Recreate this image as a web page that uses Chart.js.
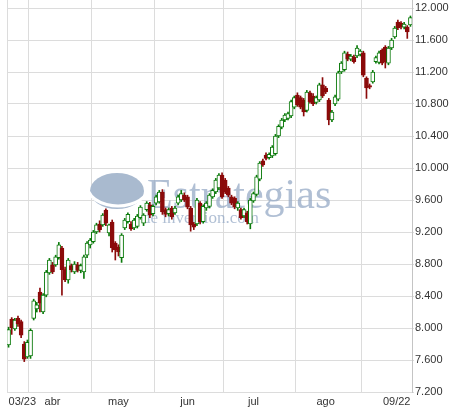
<!DOCTYPE html>
<html>
<head>
<meta charset="utf-8">
<script src="https://cdn.jsdelivr.net/npm/chart.js@4.4.1/dist/chart.umd.min.js"></script>
<style>
  html, body { margin: 0; padding: 0; background: #fff; }
</style>
</head>
<body>
<canvas id="chart" width="451" height="411"></canvas>
<script>
// trading days 23 mar - 22 sep
const dates = [
  '03/23','03/24','03/25','03/26','03/27','03/30','03/31',
  '04/01','04/02','04/03','04/06','04/07','04/08','04/09','04/14','04/15','04/16','04/17','04/20','04/21','04/22','04/23','04/24','04/27','04/28','04/29','04/30',
  '05/04','05/05','05/06','05/07','05/08','05/11','05/12','05/13','05/14','05/15','05/18','05/19','05/20','05/21','05/22','05/25','05/26','05/27','05/28','05/29',
  '06/01','06/02','06/03','06/04','06/05','06/08','06/09','06/10','06/11','06/12','06/15','06/16','06/17','06/18','06/19','06/22','06/23','06/24','06/25','06/26','06/29','06/30',
  '07/01','07/02','07/03','07/06','07/07','07/08','07/09','07/10','07/13','07/14','07/15','07/16','07/17','07/20','07/21','07/22','07/23','07/24','07/27','07/28','07/29','07/30','07/31',
  '08/03','08/04','08/05','08/06','08/07','08/10','08/11','08/12','08/13','08/14','08/17','08/18','08/19','08/20','08/21','08/24','08/25','08/26','08/27','08/28','08/31',
  '09/01','09/02','09/03','09/04','09/07','09/08','09/09','09/10','09/11','09/14','09/15','09/16','09/17','09/18','09/21','09/22'
];

const openP = [
  7790, 8110, 7990, 8120, 8080, 7800, 7640, 7650, 8120, 8240,
  8450, 8200, 8410, 8690, 8790, 8790, 8880, 9000, 8730, 8600,
  8780, 8700, 8790, 8720, 8700, 8910, 9040, 9080, 9200, 9300,
  9290, 9475, 9190, 9325, 9060, 9010, 8880, 9250, 9330, 9300,
  9250, 9270, 9380, 9310, 9480, 9540, 9430, 9560, 9575, 9700,
  9480, 9430, 9500, 9440, 9560, 9600, 9660, 9640, 9500, 9300,
  9300, 9560, 9330, 9500, 9520, 9640, 9700, 9750, 9910, 9850,
  9750, 9640, 9620, 9500, 9480, 9400, 9440, 9300, 9590, 9670,
  9860, 10090, 10160, 10130, 10150, 10180, 10400, 10510, 10600, 10620,
  10650, 10760, 10910, 10880, 10850, 10720, 10940, 10900, 10820, 10850,
  11040, 11000, 10850, 10600, 10800, 10860, 11200, 11230, 11420, 11360,
  11390, 11400, 11420, 11440, 11125, 11030, 11075, 11330, 11320, 11475,
  11510, 11310, 11500, 11640, 11825, 11810, 11760, 11760, 11790
];
const highP = [
  8010, 8130, 8120, 8150, 8100, 7830, 7850, 7990, 8360, 8320,
  8500, 8430, 8720, 8870, 8820, 8910, 9070, 9020, 8760, 8870,
  8800, 8830, 8820, 8800, 8910, 9080, 9120, 9220, 9310, 9340,
  9430, 9490, 9300, 9350, 9080, 9040, 9180, 9370, 9440, 9330,
  9370, 9420, 9530, 9430, 9580, 9570, 9540, 9660, 9720, 9730,
  9500, 9500, 9520, 9520, 9660, 9720, 9690, 9660, 9520, 9320,
  9620, 9580, 9540, 9580, 9680, 9740, 9870, 9930, 9940, 9870,
  9770, 9660, 9640, 9580, 9500, 9500, 9460, 9620, 9700, 9910,
  10080, 10110, 10190, 10190, 10280, 10420, 10540, 10620, 10680, 10700,
  10850, 10900, 10940, 10900, 10870, 10970, 10960, 10930, 10900, 11060,
  11130, 11020, 10870, 10720, 10910, 11210, 11330, 11460, 11450, 11420,
  11410, 11530, 11480, 11460, 11140, 11050, 11220, 11400, 11460, 11490,
  11530, 11520, 11620, 11770, 11850, 11830, 11820, 11780, 11900
];
const lowP = [
  7760, 7920, 7970, 8020, 7880, 7580, 7620, 7620, 8100, 8200,
  8200, 8180, 8390, 8670, 8680, 8770, 8860, 8410, 8580, 8560,
  8700, 8680, 8700, 8690, 8620, 8880, 9000, 9060, 9180, 9200,
  9270, 9280, 9150, 8950, 8850, 8900, 8820, 9230, 9310, 9220,
  9230, 9250, 9360, 9280, 9460, 9380, 9400, 9540, 9560, 9420,
  9390, 9400, 9360, 9420, 9540, 9580, 9580, 9490, 9210, 9230,
  9280, 9300, 9310, 9470, 9500, 9620, 9680, 9730, 9620, 9680,
  9640, 9540, 9490, 9470, 9360, 9380, 9300, 9240, 9570, 9650,
  9840, 10020, 10100, 10110, 10130, 10160, 10380, 10490, 10580, 10600,
  10630, 10740, 10770, 10740, 10650, 10700, 10810, 10780, 10800, 10830,
  10880, 10930, 10540, 10580, 10780, 10840, 11180, 11210, 11340, 11340,
  11310, 11380, 11400, 11140, 10870, 10990, 11060, 11310, 11300, 11290,
  11250, 11290, 11480, 11620, 11730, 11740, 11740, 11620, 11770
];
const closeP = [
  7980, 8000, 8100, 8050, 7910, 7610, 7820, 7970, 8340, 8290,
  8310, 8410, 8700, 8850, 8700, 8890, 9040, 8730, 8600, 8850,
  8730, 8800, 8720, 8780, 8890, 9060, 9100, 9200, 9290, 9230,
  9410, 9310, 9290, 9000, 8975, 8950, 9160, 9350, 9420, 9240,
  9350, 9400, 9510, 9410, 9560, 9410, 9520, 9640, 9700, 9450,
  9420, 9480, 9390, 9500, 9640, 9680, 9600, 9510, 9290, 9260,
  9600, 9330, 9520, 9560, 9660, 9720, 9850, 9910, 9640, 9700,
  9660, 9560, 9510, 9560, 9380, 9480, 9330, 9600, 9680, 9890,
  10060, 10040, 10120, 10170, 10260, 10400, 10520, 10600, 10660, 10680,
  10830, 10880, 10790, 10760, 10700, 10950, 10830, 10800, 10880, 11040,
  10900, 10950, 10600, 10700, 10890, 11190, 11310, 11440, 11360, 11400,
  11330, 11500, 11460, 11160, 11000, 11010, 11200, 11380, 11440, 11310,
  11330, 11500, 11600, 11750, 11750, 11760, 11800, 11700, 11880
];

const yTicks = [7200, 7600, 8000, 8400, 8800, 9200, 9600, 10000, 10400, 10800, 11200, 11600, 12000];
const monthNames = { '04': 'abr', '05': 'may', '06': 'jun', '07': 'jul', '08': 'ago' };

const upColor = '#0b7a0b';
const downColor = '#8b0a0a';
const isUp = closeP.map((c, i) => c >= openP[i]);

// month boundaries for the vertical grid
const boundaries = [0];
for (let i = 1; i < dates.length; i++) {
  if (dates[i].slice(0, 2) !== dates[i - 1].slice(0, 2)) boundaries.push(i);
}
// labels: first day, mid month names, last day
const labelAt = {};
labelAt[0] = dates[0];
labelAt[dates.length - 1] = dates[dates.length - 1];
for (const m in monthNames) {
  const k = dates.findIndex(d => d.slice(0, 2) === m && +d.slice(3) >= 14);
  labelAt[k] = monthNames[m];
}

function fmtThousands(v) {
  const s = String(Math.round(v));
  return s.slice(0, s.length - 3) + '.' + s.slice(-3);
}

const watermark = {
  id: 'watermark',
  beforeDatasetsDraw(chart) {
    const c = chart.ctx;
    c.save();
    c.fillStyle = '#a9bacf';
    c.beginPath();
    c.ellipse(117, 191, 27, 18, 0, 0, Math.PI * 2);
    c.fill();
    c.strokeStyle = '#ffffff';
    c.lineWidth = 3;
    c.beginPath();
    c.ellipse(118, 185, 31, 21, 0, 0.12 * Math.PI, 0.9 * Math.PI);
    c.stroke();
    c.fillStyle = 'rgba(150,170,198,0.75)';
    c.font = '42px "Liberation Serif", serif';
    c.fillText('Estrategias', 147, 208);
    c.font = '17px "Liberation Serif", serif';
    c.fillText('de inversion.com', 142, 223);
    c.restore();
  }
};

Chart.defaults.font.family = '"Liberation Sans", Arial, sans-serif';
Chart.defaults.font.size = 11;
Chart.defaults.color = '#333333';

new Chart(document.getElementById('chart'), {
  type: 'bar',
  data: {
    labels: dates,
    datasets: [
      {
        label: 'wick',
        data: lowP.map((l, i) => [l, highP[i]]),
        backgroundColor: isUp.map(u => u ? upColor : downColor),
        barThickness: 1,
        grouped: false,
        order: 2
      },
      {
        label: 'body',
        data: openP.map((o, i) => [o, closeP[i]]),
        backgroundColor: isUp.map(u => u ? '#ffffff' : downColor),
        borderColor: isUp.map(u => u ? upColor : downColor),
        borderWidth: 1,
        borderSkipped: false,
        barThickness: 4,
        grouped: false,
        order: 1
      }
    ]
  },
  options: {
    responsive: false,
    animation: false,
    layout: { padding: { left: 7, right: 0, top: 0, bottom: 0 } },
    plugins: { legend: { display: false }, tooltip: { enabled: false } },
    scales: {
      x: {
        offset: true,
        grid: {
          offset: true,
          drawTicks: false,
          color: ctx => boundaries.includes(ctx.index) ? '#dcdcdc' : 'rgba(0,0,0,0)'
        },
        border: { display: false },
        ticks: {
          autoSkip: false,
          maxRotation: 0,
          minRotation: 0,
          align: 'inner',
          padding: 3,
          callback: (v, i) => labelAt[i] || ''
        },
        afterFit: s => { s.height = 19; s.paddingLeft = 0; s.paddingRight = 0; }
      },
      y: {
        position: 'right',
        min: 7200,
        max: 12100,
        afterBuildTicks: s => { s.ticks = yTicks.map(v => ({ value: v })); },
        afterFit: s => { s.width = 39; s.paddingTop = 0; s.paddingBottom = 0; },
        grid: { color: '#dcdcdc', tickLength: 2 },
        border: { color: '#c4c4c4' },
        ticks: { padding: 1, callback: v => fmtThousands(v) }
      }
    }
  },
  plugins: [watermark]
});
</script>
</body>
</html>
